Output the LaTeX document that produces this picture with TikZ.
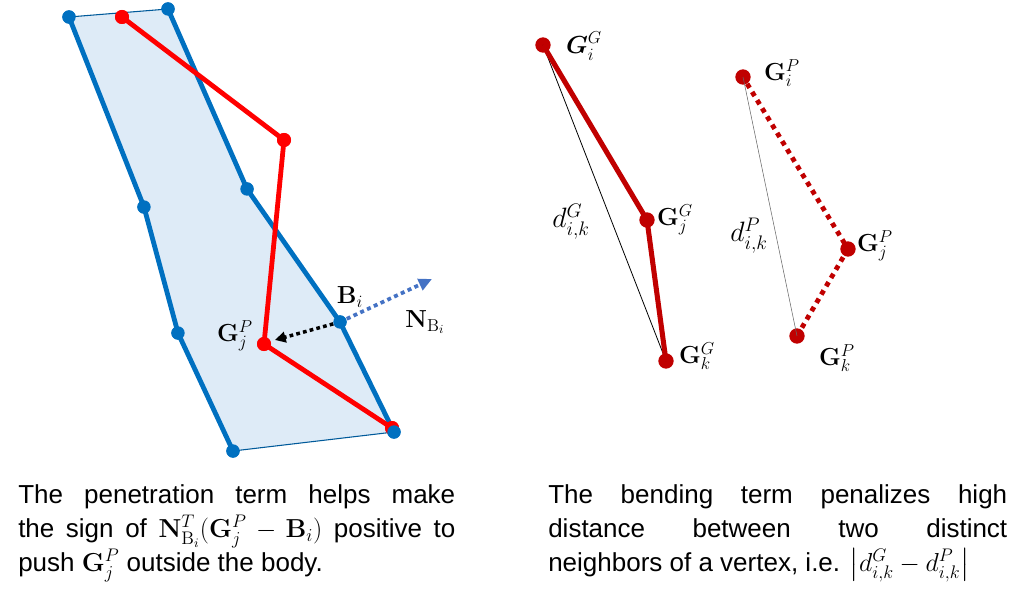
\RequirePackage{fix-cm}
\documentclass[tikz,border=0pt]{standalone}
\usepackage{amsmath}
\usepackage[no-math]{fontspec}
\setmainfont{Liberation Sans}
\usetikzlibrary{arrows.meta}
\definecolor{bblue}{RGB}{0,112,192}
\definecolor{bfill}{RGB}{222,235,247}
\definecolor{nblue}{RGB}{68,114,196}
\definecolor{dred}{RGB}{192,0,0}
\definecolor{bred}{RGB}{255,0,0}
\begin{document}
\begin{tikzpicture}[x=0.75pt,y=-0.75pt,
  bdot/.style={circle,fill=bblue,inner sep=0pt,minimum size=10pt},
  rdot/.style={circle,fill=bred,inner sep=0pt,minimum size=10.5pt},
  ddot/.style={circle,fill=dred,inner sep=0pt,minimum size=11.5pt},
  bthick/.style={draw=bblue,line width=3.6pt,line join=round},
  bthin/.style={draw=bblue!80!black,line width=0.8pt},
  rline/.style={draw=bred,line width=3.6pt,line join=round},
  dline/.style={draw=dred,line width=3.8pt},
  ddotted/.style={draw=dred,line width=3.6pt,dash pattern=on 3.6pt off 3.6pt},
  lab/.style={inner sep=0pt,font=\fontsize{18.5}{22}\selectfont},
  dlab/.style={inner sep=0pt,font=\fontsize{21}{24}\selectfont},
  para/.style={anchor=north west,inner sep=0pt,align=justify,font=\fontsize{19.5}{25.5}\selectfont}
]
\useasboundingbox (0,0) rectangle (1024,602);

% ---- left: body polygon
\node[bdot] (b1) at (69,17) {};
\node[bdot] (b2) at (168,9) {};
\node[bdot] (b3) at (247,189) {};
\node[bdot] (bi) at (340,322) {};
\node[bdot] (b5) at (394,432) {};
\node[bdot] (b6) at (233,451) {};
\node[bdot] (b7) at (178,333) {};
\node[bdot] (b8) at (144,207) {};
\coordinate (tipA) at (275,340);
\coordinate (tipN) at (432,279);

\fill[bfill] (b1.center) -- (b2.center) -- (b3.center) -- (bi.center) -- (b5.center)
  -- (b6.center) -- (b7.center) -- (b8.center) -- cycle;
\draw[bthin] (b1.center) -- (b2.center);
\draw[bthin] (b6.center) -- (b5.center);
\draw[bthick] (b1.center) -- (b8.center) -- (b7.center) -- (b6.center);
\draw[bthick] (b2.center) -- (b3.center) -- (bi.center) -- (b5.center);

% red garment
\node[rdot] (r1) at (122,17) {};
\node[rdot] (r2) at (284,140) {};
\node[rdot] (rj) at (264,344) {};
\node[rdot] (r4) at (392,428) {};
\draw[rline] (r1.center) -- (r2.center) -- (rj.center) -- (r4.center);
\node[rdot] at (r1) {};
\node[rdot] at (r2) {};
\node[rdot] at (rj) {};
\node[rdot] at (r4) {};
\node[bdot] at (b1) {};
\node[bdot] at (b2) {};
\node[bdot] at (b3) {};
\node[bdot] at (b5) {};
\node[bdot] at (b6) {};
\node[bdot] at (b7) {};
\node[bdot] at (b8) {};

% arrows
\draw[line width=2.6pt,dash pattern=on 2.8pt off 2.4pt,-{Triangle[length=8pt,width=8pt]}] (bi.center) -- (tipA);
\draw[nblue,line width=2.8pt,dash pattern=on 3pt off 2.6pt,-{Triangle[length=10pt,width=9pt]}] (bi.center) -- (tipN);
\node[bdot] at (bi) {};

\node[lab] (lbi) at (350,297) {$\mathbf{B}_i$};
\node[lab] (lnb) at (425,322) {$\mathbf{N}_{\mathrm{B}_i}$};
\node[lab] (lgj) at (235,336) {$\mathbf{G}_j^P$};

% ---- right: bending
\node[ddot] (gi) at (543,45) {};
\node[ddot] (gj) at (647,220) {};
\node[ddot] (gk) at (666,361) {};
\draw[black,line width=0.6pt] (gi.center) -- (gk.center);
\draw[dline] (gi.center) -- (gj.center) -- (gk.center);

\node[ddot] (pi) at (743,77) {};
\node[ddot] (pj) at (848,249) {};
\node[ddot] (pk) at (797,336) {};
\draw[black!60,line width=0.4pt] (pi.center) -- (pk.center);
\draw[ddotted] (pi) -- (pj.center);
\draw[ddotted] (pj.center) -- (pk);

\node[lab] (lgi) at (584,46) {$\boldsymbol{G}_i^G$};
\node[lab] (lgjg) at (675,220) {$\mathbf{G}_j^G$};
\node[lab] (lgk) at (697,356) {$\mathbf{G}_k^G$};
\node[dlab] (ldg) at (571,222) {$d_{i,k}^G$};
\node[lab] (lpi) at (782,73) {$\mathbf{G}_i^P$};
\node[lab] (lpj) at (875,246) {$\mathbf{G}_j^P$};
\node[lab] (lpk) at (837,358) {$\mathbf{G}_k^P$};
\node[dlab] (ldp) at (749,236) {$d_{i,k}^P$};

% ---- captions
\node[para,text width=327.75pt] (capl) at (18,484)
  {The penetration term helps make\linebreak the sign of $\mathbf{N}^T_{\mathrm{B}_i}(\mathbf{G}^P_j-\mathbf{B}_i)$ positive to\linebreak push $\mathbf{G}^P_j$ outside the body.};
\node[para,text width=344.25pt] (capr) at (548,484)
  {The bending term penalizes high\linebreak distance between two distinct\linebreak neighbors of a vertex, i.e. $\bigl|d^G_{i,k}-d^P_{i,k}\bigr|$};
\end{tikzpicture}
\end{document}
